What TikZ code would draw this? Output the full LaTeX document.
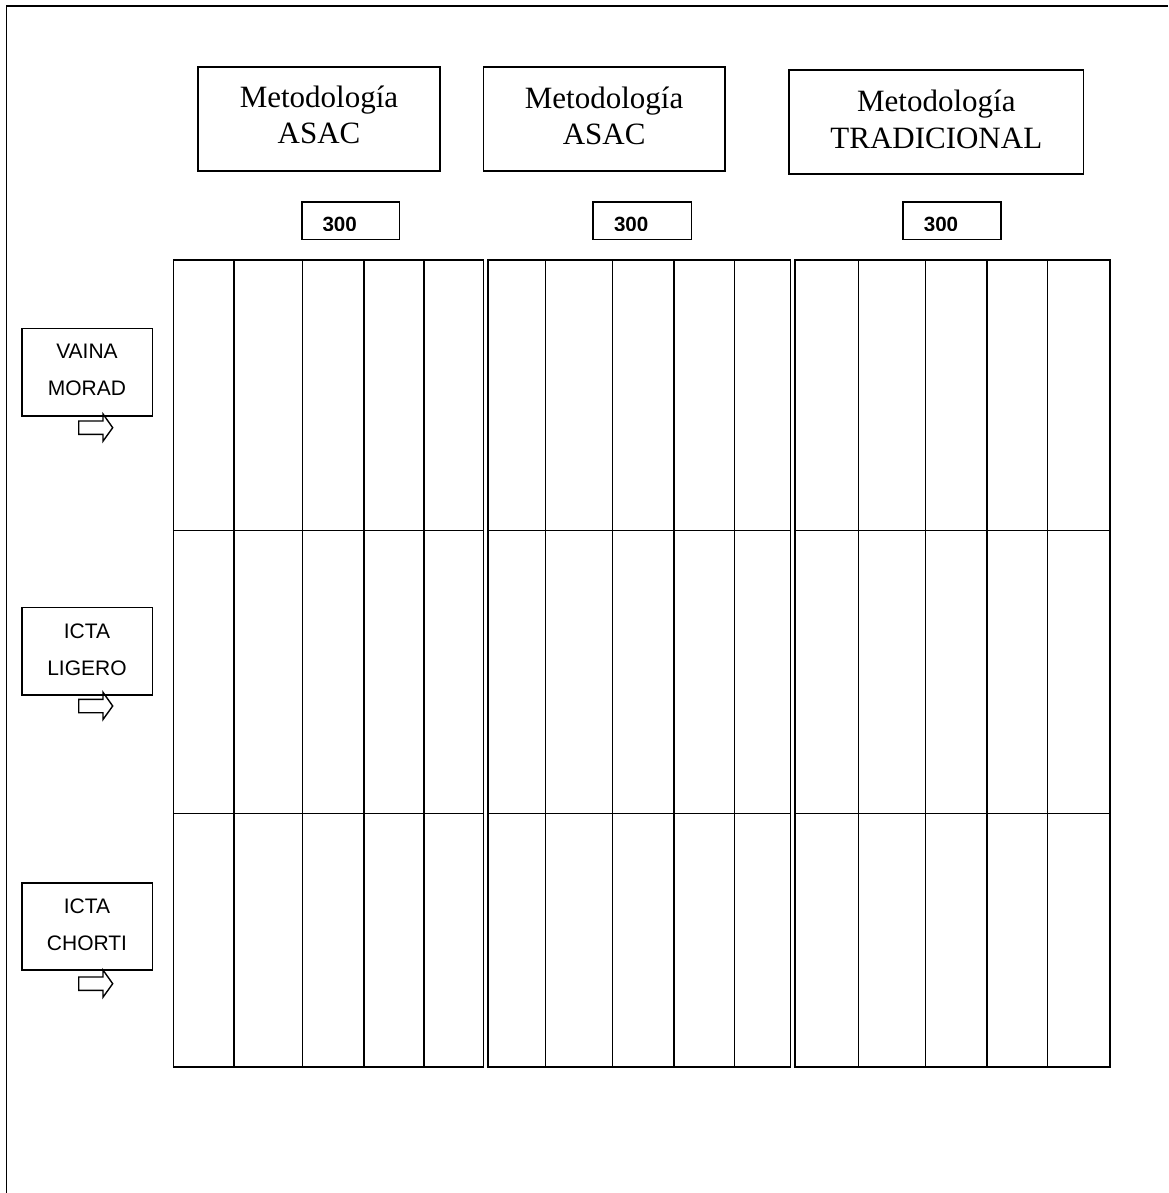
\documentclass[tikz,border=0pt]{standalone}
\usepackage{fontspec}
\setmainfont{Liberation Serif}
\newfontfamily\arialf{Liberation Sans}
\begin{document}
\begin{tikzpicture}[x=1pt,y=-1pt,line width=1.6pt,
  hbox/.style={draw,rectangle,inner sep=0pt},
  bigtxt/.style={inner sep=0pt,align=center,font=\fontsize{31}{36.7}\selectfont},
  smalltxt/.style={inner sep=0pt,align=center,font=\arialf\fontsize{21}{37}\selectfont},
  numtxt/.style={inner sep=0pt,anchor=base,font=\arialf\bfseries\fontsize{20.6}{24}\selectfont},
  blockarrow/.style={draw,line width=1.4pt}]
\useasboundingbox (0,0) rectangle (1168,1193);
% outer frame
\draw (1168,6.3) -- (6.3,6.3) -- (6.3,1193);
% method boxes
\node[hbox,minimum width=242pt,minimum height=104.3pt] (m1) at (319,118.9) {};
\node[bigtxt] (m1t) at (319,115) {Metodología\\ASAC};
\node[hbox,minimum width=241.2pt,minimum height=104.3pt] (m2) at (604.1,118.9) {};
\node[bigtxt] (m2t) at (604.1,116) {Metodología\\ASAC};
\node[hbox,minimum width=294.5pt,minimum height=104pt] (m3) at (936.3,122) {};
\node[bigtxt] (m3t) at (936.3,119.2) {Metodología\\TRADICIONAL};
% number boxes
\node[hbox,minimum width=97.5pt,minimum height=37.5pt] (n1) at (350.7,220.7) {};
\node[hbox,minimum width=98.4pt,minimum height=37.5pt] (n2) at (642.2,220.7) {};
\node[hbox,minimum width=98pt,minimum height=37.5pt] (n3) at (952,220.7) {};
\begin{scope}
\clip (280,200) rectangle (1020,230.5);
\node[numtxt] (n1t) at (339.7,231.7) {300};
\node[numtxt] (n2t) at (631.2,231.7) {300};
\node[numtxt] (n3t) at (941,231.7) {300};
\end{scope}
% left labels
\node[hbox,minimum width=130.7pt,minimum height=87.3pt] (l1) at (87.3,372.3) {};
\node[smalltxt] (l1t) at (87,370) {VAINA\\MORAD};
\node[hbox,minimum width=130.7pt,minimum height=87.3pt] (l2) at (87.3,651.3) {};
\node[smalltxt] (l2t) at (87,649.3) {ICTA\\LIGERO};
\node[hbox,minimum width=130.7pt,minimum height=87.3pt] (l3) at (87.3,926.5) {};
\node[smalltxt] (l3t) at (87,925) {ICTA\\CHORTI};
% block arrows
\coordinate (a1) at (78.7,427.7);
\coordinate (a2) at (78.7,706);
\coordinate (a3) at (78.7,983.7);
\foreach \a in {a1,a2,a3}
  \draw[blockarrow] (\a) ++(0,-6.7) -- ++(24.3,0) -- ++(0,-7) -- ++(9.7,13.7)
    -- ++(-9.7,13.5) -- ++(0,-6.8) -- ++(-24.3,0) -- cycle;
% grid
\foreach \xa/\xb in {173.3/483.5,488.2/790.5,795/1110}{
  \draw (\xa,260) rectangle (\xb,1067);
  \draw (\xa,530.5) -- (\xb,530.5);
  \draw (\xa,813.3) -- (\xb,813.3);
}
\foreach \xs in {234,302.5,364,424,545.5,612.5,674,734.5,858.5,925.5,987,1047.5}
  \draw (\xs,260) -- (\xs,1067);
\end{tikzpicture}
\end{document}
